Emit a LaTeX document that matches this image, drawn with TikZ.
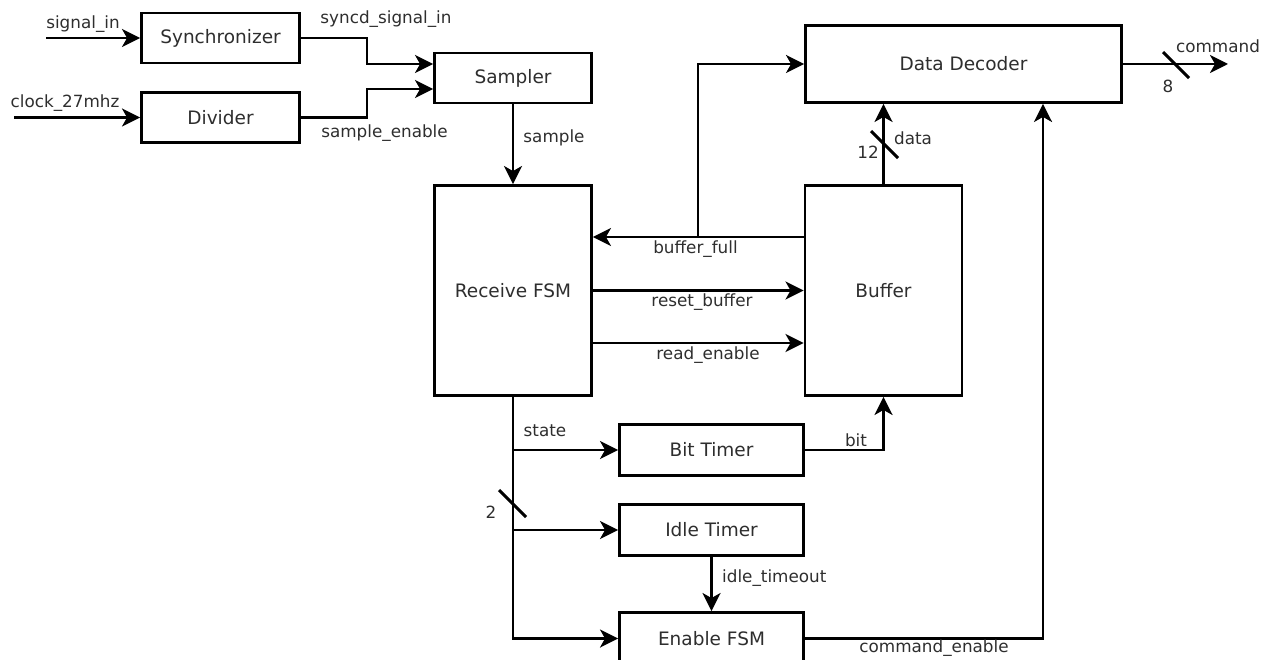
\documentclass[tikz,border=0pt]{standalone}
\usepackage{fontspec}
\setmainfont{DejaVu Sans}
\usetikzlibrary{arrows.meta,calc}

\tikzset{
  blk/.style={draw=black, line width=2.9pt, fill=white, inner sep=0pt,
    text=black!82, font=\fontsize{18.5pt}{22pt}\selectfont},
  wire/.style={draw=black, line width=2.9pt},
  arr/.style={wire, -{Stealth[length=18pt,width=18pt,inset=5pt]}},
  sig/.style={text=black!82, inner sep=0pt, font=\fontsize{16.8pt}{20pt}\selectfont},
  bus/.style={draw=black, line width=2.9pt},
}

\begin{document}
\begin{tikzpicture}[x=1pt,y=-1pt]
\useasboundingbox (0,0) rectangle (1269,660);

% blocks
\node[blk, minimum width=158pt, minimum height=50pt] (sync)    at (220.5,38)   {Synchronizer};
\node[blk, minimum width=158pt, minimum height=50pt] (div)     at (220.5,117.5){Divider};
\node[blk, minimum width=157pt, minimum height=50pt] (sampler) at (513,78)     {Sampler};
\node[blk, minimum width=157pt, minimum height=210pt] (rfsm)   at (513,290.5)  {Receive FSM};
\node[blk, minimum width=157pt, minimum height=210pt] (buffer) at (883.5,290.5){Buffer};
\node[blk, minimum width=316pt, minimum height=77pt] (dd)      at (963.5,64)   {Data Decoder};
\node[blk, minimum width=184pt, minimum height=51pt] (bit)     at (711.5,450)  {Bit Timer};
\node[blk, minimum width=184pt, minimum height=51pt] (idle)    at (711.5,530)  {Idle Timer};
\node[blk, minimum width=184pt, minimum height=52pt] (en)      at (711.5,638.5){Enable FSM};

% free ends and junctions
\coordinate (sigin)  at (46,38);
\coordinate (clkin)  at (14,117.5);
\coordinate (cmdout) at (1228,64);
\coordinate (bfj)    at (698,237);

% inputs
\draw[arr] (sigin) -- (sync.west);
\node[sig] (lsigin) at (83,24) {signal\_in};
\draw[arr] (clkin) -- (div.west);
\node[sig] (lclk) at (65,103) {clock\_27mhz};

% into the sampler
\draw[arr] (sync.east) -- ++(66,0) |- ([yshift=14pt]sampler.west);
\draw[arr] (div.east) -- ++(66,0) |- ([yshift=-11pt]sampler.west);
\node[sig] (lsync) at (386,19) {syncd\_signal\_in};
\node[sig] (lsen) at (384.5,133) {sample\_enable};

% sample
\draw[arr] (sampler.south) -- (rfsm.north);
\node[sig] (lsample) at (554,138) {sample};

% FSM <-> buffer
\draw[arr] ([yshift=53.5pt]buffer.west) -- ([yshift=53.5pt]rfsm.east);
\draw[arr] (bfj) |- (dd.west);
\node[sig] (lbf) at (695.5,249) {buffer\_full};
\draw[arr] (rfsm.east) -- (buffer.west);
\node[sig] (lrst) at (702,302) {reset\_buffer};
\draw[arr] ([yshift=-52.5pt]rfsm.east) -- ([yshift=-52.5pt]buffer.west);
\node[sig] (lrd) at (708,355) {read\_enable};

% data bus
\draw[arr] (buffer.north) -- (buffer.north |- dd.south);
\draw[bus] (871,131) -- (898,158);
\node[sig] (l12) at (868,152) {12};
\node[sig] (ldata) at (913,138) {data};

% command bus
\draw[arr] (dd.east) -- (cmdout);
\draw[bus] (1163,52) -- (1189,78);
\node[sig] (l8) at (1168,86) {8};
\node[sig] (lcmd) at (1218,46) {command};

% state bus
\draw[arr] (rfsm.south) |- (en.west);
\draw[arr] (rfsm.south |- bit.west) -- (bit.west);
\draw[arr] (rfsm.south |- idle.west) -- (idle.west);
\draw[bus] (499,490) -- (526,517);
\node[sig] (l2) at (491,512) {2};
\node[sig] (lstate) at (545,431) {state};

% timers
\draw[arr] (bit.east) -| (buffer.south);
\node[sig] (lbit) at (856,440) {bit};
\draw[arr] (idle.south) -- (en.north);
\node[sig, anchor=west] (lidle) at (722,578) {idle\_timeout};

% command enable
\draw[arr] (en.east) -| ([xshift=79.5pt]dd.south);
\node[sig] (lcen) at (934,648) {command\_enable};
\end{tikzpicture}
\end{document}
